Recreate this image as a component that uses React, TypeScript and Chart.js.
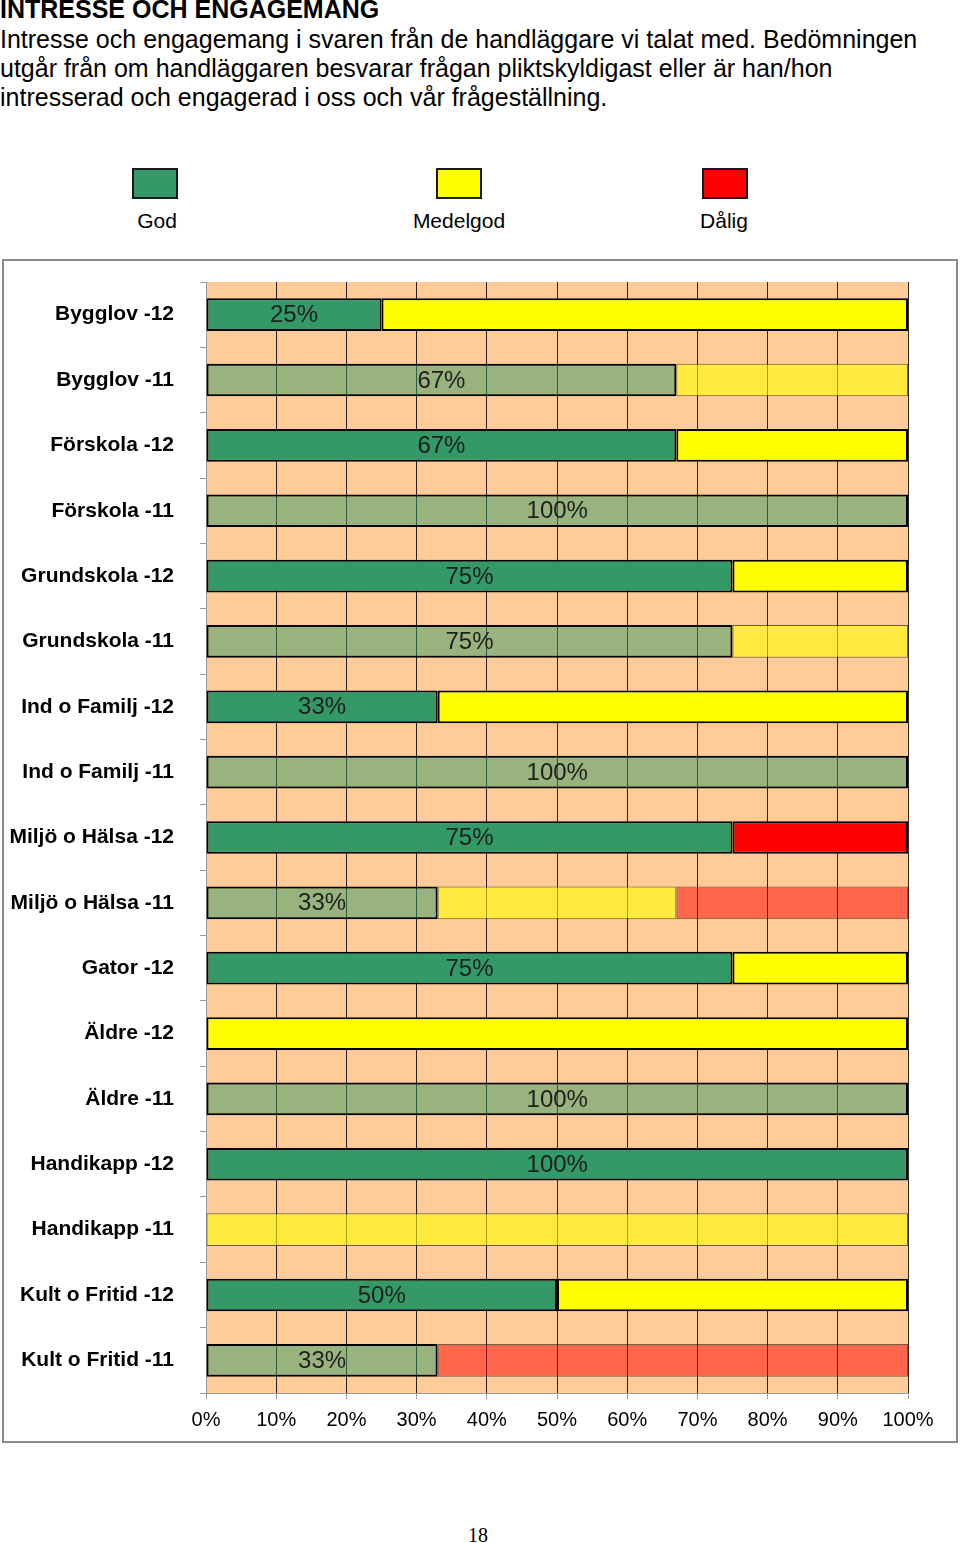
import React, { useEffect, useRef } from "react";
import { Chart, registerables } from "chart.js";

Chart.register(...registerables);

const categories = [
  "Bygglov -12",
  "Bygglov -11",
  "Förskola -12",
  "Förskola -11",
  "Grundskola -12",
  "Grundskola -11",
  "Ind o Familj -12",
  "Ind o Familj -11",
  "Miljö o Hälsa -12",
  "Miljö o Hälsa -11",
  "Gator -12",
  "Äldre -12",
  "Äldre -11",
  "Handikapp -12",
  "Handikapp -11",
  "Kult o Fritid -12",
  "Kult o Fritid -11",
];

const godValues = [25, 67, 67, 100, 75, 75, 33, 100, 75, 33, 75, 0, 100, 100, 0, 50, 33];
const medelgodValues = [75, 33, 33, 0, 25, 25, 67, 0, 0, 34, 25, 100, 0, 0, 100, 50, 0];
const daligValues = [0, 0, 0, 0, 0, 0, 0, 0, 25, 33, 0, 0, 0, 0, 0, 0, 67];

const xTicks = [0, 10, 20, 30, 40, 50, 60, 70, 80, 90, 100];

const seriesNames = ["God", "Medelgod", "Dålig"];
const solidColors = ["#339966", "#FFFF00", "#FF0000"];
const fadedColors = ["rgba(51,153,102,0.5)", "rgba(255,255,0,0.6)", "rgba(255,0,0,0.5)"];

const FONT = "'Liberation Sans', Arial, Helvetica, sans-serif";

const isOld = (i: number) => categories[i].endsWith("-11");

export default function App() {
  const canvasRef = useRef<HTMLCanvasElement | null>(null);

  useEffect(() => {
    const canvas = canvasRef.current;
    if (!canvas) return;

    const seriesValues = [godValues, medelgodValues, daligValues];

    const bgPlugin = {
      id: "bgPlugin",
      beforeDraw(chart: any) {
        const { ctx, chartArea } = chart;
        ctx.save();
        ctx.fillStyle = "#FFCC99";
        ctx.fillRect(chartArea.left, chartArea.top, chartArea.right - chartArea.left, chartArea.bottom - chartArea.top);
        ctx.restore();
      },
      afterDraw(chart: any) {
        const { ctx } = chart;
        ctx.save();
        ctx.strokeStyle = "#8a8a8a";
        ctx.lineWidth = 2;
        ctx.strokeRect(1, 1, chart.width - 2, chart.height - 2);
        ctx.restore();
      },
    };

    const labelPlugin = {
      id: "labelPlugin",
      afterDatasetsDraw(chart: any) {
        const { ctx } = chart;
        const meta = chart.getDatasetMeta(0);
        ctx.save();
        ctx.font = `24px ${FONT}`;
        ctx.fillStyle = "#1e1e1e";
        ctx.textAlign = "center";
        ctx.textBaseline = "middle";
        meta.data.forEach((el: any, i: number) => {
          const v = godValues[i];
          if (!v) return;
          const props = el.getProps(["x", "y", "base"], true);
          ctx.fillText(`${v}%`, (props.x + props.base) / 2, props.y + 1);
        });
        ctx.restore();
      },
    };

    const chart = new Chart(canvas, {
      type: "bar",
      data: {
        labels: categories,
        datasets: seriesValues.map((vals, s) => ({
          label: seriesNames[s],
          data: vals,
          backgroundColor: (c: any) => (isOld(c.dataIndex) ? fadedColors[s] : solidColors[s]),
          borderColor: (c: any) =>
            isOld(c.dataIndex) && s > 0 ? "rgba(0,0,0,0.55)" : "#000000",
          borderWidth: (c: any) => {
            if (!vals[c.dataIndex]) return 0;
            return isOld(c.dataIndex) && s > 0 ? 1 : 2;
          },
          borderSkipped: false,
          categoryPercentage: 1,
          barPercentage: 0.5,
        })),
      },
      options: {
        indexAxis: "y",
        responsive: false,
        animation: false,
        layout: { padding: { top: 23, right: 50, left: 0, bottom: 0 } },
        plugins: {
          legend: { display: false },
          tooltip: { enabled: false },
        },
        scales: {
          x: {
            stacked: true,
            min: 0,
            max: 100,
            afterBuildTicks(scale: any) {
              scale.ticks = xTicks.map((v) => ({ value: v }));
            },
            afterFit(scale: any) {
              scale.height = 50;
              scale.paddingLeft = 0;
              scale.paddingRight = 0;
            },
            ticks: {
              callback: (v: any) => `${v}%`,
              color: "#000000",
              font: { family: FONT, size: 20 },
              padding: 9,
              maxRotation: 0,
            },
            grid: {
              color: "rgba(0,0,0,0.85)",
              lineWidth: 1,
              tickColor: "#9a9a9a",
              tickLength: 6,
            },
            border: { color: "#9a9a9a", width: 1 },
          },
          y: {
            stacked: true,
            afterFit(scale: any) {
              scale.width = 204;
              scale.paddingTop = 0;
              scale.paddingBottom = 0;
            },
            ticks: {
              color: "#000000",
              font: { family: FONT, size: 21, weight: "bold" },
              padding: 26,
            },
            grid: {
              offset: true,
              drawOnChartArea: false,
              tickColor: "#9a9a9a",
              tickLength: 6,
            },
            border: { color: "#9a9a9a", width: 1 },
          },
        },
      },
      plugins: [bgPlugin, labelPlugin],
    } as any);

    return () => chart.destroy();
  }, []);

  const legendItems = [
    { name: seriesNames[0], color: solidColors[0], left: 132, center: 157 },
    { name: seriesNames[1], color: solidColors[1], left: 436, center: 459 },
    { name: seriesNames[2], color: solidColors[2], left: 702, center: 724 },
  ];

  return (
    <div
      style={{
        position: "absolute",
        left: 0,
        top: 0,
        width: 960,
        height: 1543,
        background: "#ffffff",
        fontFamily: FONT,
        color: "#000",
        overflow: "hidden",
      }}
    >
      <div style={{ position: "absolute", left: 0, top: -5, fontSize: 25, fontWeight: "bold", lineHeight: "29px", whiteSpace: "nowrap" }}>
        INTRESSE OCH ENGAGEMANG
      </div>
      <div style={{ position: "absolute", left: 0, top: 25, width: 960, fontSize: 25, lineHeight: "29px" }}>
        <div style={{ whiteSpace: "nowrap" }}>Intresse och engagemang i svaren från de handläggare vi talat med. Bedömningen</div>
        <div style={{ whiteSpace: "nowrap" }}>utgår från om handläggaren besvarar frågan pliktskyldigast eller är han/hon</div>
        <div style={{ whiteSpace: "nowrap" }}>intresserad och engagerad i oss och vår frågeställning.</div>
      </div>
      {legendItems.map((it) => (
        <React.Fragment key={it.name}>
          <div
            style={{
              position: "absolute",
              left: it.left,
              top: 168,
              width: 46,
              height: 31,
              boxSizing: "border-box",
              border: "2px solid #1a1a1a",
              background: it.color,
            }}
          />
          <div
            style={{
              position: "absolute",
              left: it.center - 60,
              width: 120,
              top: 208,
              textAlign: "center",
              fontSize: 21,
              lineHeight: "26px",
            }}
          >
            {it.name}
          </div>
        </React.Fragment>
      ))}
      <canvas
        ref={canvasRef}
        width={956}
        height={1184}
        style={{ position: "absolute", left: 2, top: 259, width: 956, height: 1184 }}
      />
      <div
        style={{
          position: "absolute",
          left: 428,
          width: 100,
          top: 1522,
          textAlign: "center",
          fontFamily: "'Liberation Serif', 'Times New Roman', serif",
          fontSize: 20,
          lineHeight: "26px",
        }}
      >
        18
      </div>
    </div>
  );
}
